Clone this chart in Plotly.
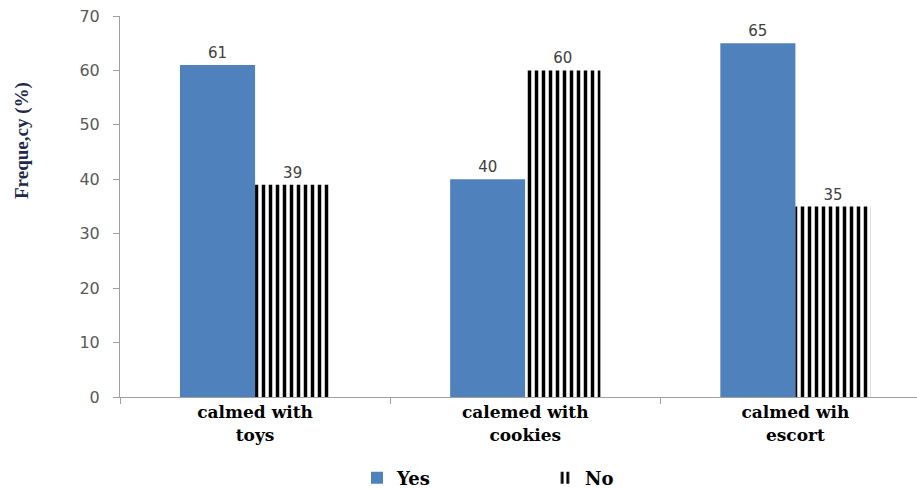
import plotly.graph_objects as go

categories = ["calmed with<br>toys", "calemed with<br>cookies", "calmed wih<br>escort"]
yes_values = [61, 40, 65]
no_values = [39, 60, 35]
y_ticks = [0, 10, 20, 30, 40, 50, 60, 70]

label_font = dict(family="DejaVu Sans", size=15, color="#404040")

fig = go.Figure()
fig.add_trace(go.Bar(
    x=categories, y=yes_values, name="Yes",
    marker=dict(color="#4F81BD", line=dict(width=0)),
    text=[str(v) for v in yes_values], textposition="outside",
    textfont=label_font, cliponaxis=False,
))
fig.add_trace(go.Bar(
    x=categories, y=no_values, name="No",
    marker=dict(color="white", line=dict(width=0),
                pattern=dict(shape="|", fgcolor="black", bgcolor="white",
                             size=7, solidity=0.5, fillmode="replace")),
    text=[str(v) for v in no_values], textposition="outside",
    textfont=label_font, cliponaxis=False,
))

pw, ph = 917 - 120, 489 - 16 - 92

fig.update_layout(
    width=917, height=489,
    margin=dict(l=120, r=0, t=16, b=92, autoexpand=False),
    paper_bgcolor="white", plot_bgcolor="white",
    barmode="group", bargap=0.444, bargroupgap=0,
    showlegend=True,
    legend=dict(orientation="h", x=(357 - 120) / pw, xref="paper",
                y=1 - 478 / 489, yref="container", xanchor="left", yanchor="middle",
                font=dict(family="DejaVu Serif", size=18, color="black", weight="bold"),
                entrywidth=143, entrywidthmode="pixels",
                traceorder="normal"),
    xaxis=dict(range=[-0.5, 2.45], showline=True, linecolor="#A0A0A0", linewidth=1,
               ticks="outside", tickson="boundaries", ticklen=6, tickcolor="#A0A0A0",
               tickfont=dict(family="DejaVu Serif", size=17, color="black", weight="bold"),
               showgrid=False, zeroline=False, automargin=False),
    yaxis=dict(range=[0, 70], tickvals=y_ticks, showline=True, linecolor="#A0A0A0", linewidth=1,
               ticks="outside", ticklen=6, tickcolor="#A0A0A0",
               tickfont=dict(family="DejaVu Sans", size=16, color="#595959"),
               ticklabelstandoff=10,
               showgrid=False, zeroline=False, automargin=False),
    annotations=[dict(text="<b>Freque,cy (%)</b>", textangle=-90,
                      x=(22 - 120) / pw, xref="paper", y=(489 - 92 - 141) / ph, yref="paper",
                      xanchor="center", yanchor="middle",
                      showarrow=False,
                      font=dict(family="Liberation Serif", size=19, color="#1F2A4A"))],
)

fig.write_html("out.html")
